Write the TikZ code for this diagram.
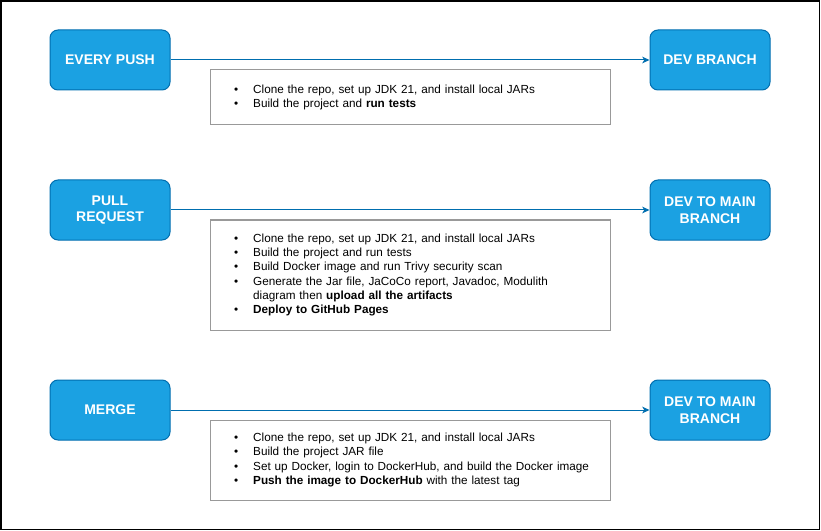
\documentclass[tikz,border=0pt]{standalone}
\usepackage{fontspec}
\setmainfont{Liberation Sans}
\usetikzlibrary{arrows.meta, positioning}
\definecolor{boxfill}{HTML}{1BA1E2}
\definecolor{boxline}{HTML}{006EAF}
\definecolor{stepline}{HTML}{999999}

\begin{document}
\begin{tikzpicture}[x=0.75pt, y=-0.75pt,
  event/.style = {draw=boxline, fill=boxfill, rounded corners=6pt, line width=0.75pt,
    minimum width=90pt, minimum height=45pt, text=white, align=center,
    font=\fontsize{10.5}{12.6}\selectfont\bfseries},
  steps/.style = {draw=stepline, line width=0.75pt, minimum width=300pt,
    text width=264pt, inner xsep=18pt, align=left,
    font=\fontsize{8.8}{10.75}\selectfont},
  flow/.style = {draw=boxline, line width=0.75pt,
    -{Stealth[length=5.5pt, width=5pt, inset=1.6pt]}}]
\useasboundingbox (0,0) rectangle (821,531);
\draw[line width=1.1pt] (1,1) rectangle (819.5,529.5);

% every push
\node[event] (push) at (110,60) {EVERY PUSH};
\node[event] (pushdev) at (710,60) {DEV BRANCH};
\node[steps, minimum height=41.25pt] (pushsteps) at (410,97.5) {%
  \begin{tabular}{@{}l@{\hspace{11.3pt}}l@{}}
  \textbullet & Clone the repo, set up JDK 21, and install local JARs\\
  \textbullet & Build the project and \textbf{run tests}
  \end{tabular}};
\draw[flow] (push) -- (pushdev);

% pull request
\node[event] (pull) at (110,210) {PULL\\REQUEST};
\node[event] (pulldev) at (710,210) {DEV TO MAIN\\BRANCH};
\node[steps, minimum height=82.5pt] (pullsteps) at (410,275) {%
  \begin{tabular}{@{}l@{\hspace{11.3pt}}l@{}}
  \textbullet & Clone the repo, set up JDK 21, and install local JARs\\
  \textbullet & Build the project and run tests\\
  \textbullet & Build Docker image and run Trivy security scan\\
  \textbullet & Generate the Jar file, JaCoCo report, Javadoc, Modulith\\
              & diagram then \textbf{upload all the artifacts}\\
  \textbullet & \textbf{Deploy to GitHub Pages}
  \end{tabular}};
\draw[flow] (pull) -- (pulldev);

% merge
\node[event] (merge) at (110,410) {MERGE};
\node[event] (mergedev) at (710,410) {DEV TO MAIN\\BRANCH};
\node[steps, minimum height=60pt] (mergesteps) at (410,460) {%
  \begin{tabular}{@{}l@{\hspace{11.3pt}}l@{}}
  \textbullet & Clone the repo, set up JDK 21, and install local JARs\\
  \textbullet & Build the project JAR file\\
  \textbullet & Set up Docker, login to DockerHub, and build the Docker image\\
  \textbullet & \textbf{Push the image to DockerHub} with the latest tag
  \end{tabular}};
\draw[flow] (merge) -- (mergedev);
\end{tikzpicture}
\end{document}
